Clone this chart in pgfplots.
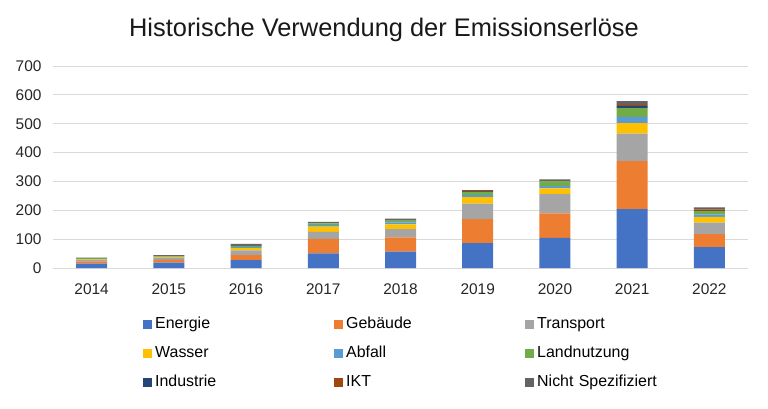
\documentclass[border=0pt]{standalone}
\usepackage{pgfplots}
\usepackage{pgfplotstable}
\pgfplotsset{compat=1.18}
\usepackage{fontspec}
\setmainfont{Liberation Sans}
\definecolor{cE}{HTML}{4472C4}
\definecolor{cG}{HTML}{ED7D31}
\definecolor{cT}{HTML}{A5A5A5}
\definecolor{cW}{HTML}{FFC000}
\definecolor{cA}{HTML}{5B9BD5}
\definecolor{cL}{HTML}{70AD47}
\definecolor{cI}{HTML}{264478}
\definecolor{cK}{HTML}{9E480E}
\definecolor{cN}{HTML}{636363}
\definecolor{gridc}{HTML}{D9D9D9}
\pgfplotstableread{
x E G T W A L I K N
0 15 8 6 2 1 2 0 0 2
1 19 9 6 4 2 2 0 0 3
2 27 18 16 8 4 4 0 0 7
3 51 50 24 18 6 6 0 0 5
4 57 49 29 16 7 6 0 0 7
5 86 83 54 23 7 10 1 3 3
6 104 85 67 20 8 16 0 1 6
7 204 166 96 36 22 30 7 4 13
8 72 45 40 20 9 11 1 5 7
}\data
\begin{document}
\begin{tikzpicture}
\path[use as bounding box] (-53bp,-141bp) rectangle (715bp,268bp);
\begin{axis}[
  at={(0,0)}, anchor=south west,
  scale only axis, width=695bp, height=202bp,
  ymin=0, ymax=700, ytick={0,100,...,700},
  xmin=-0.5, xmax=8.5, xtick={0,...,8},
  xticklabels={2014,2015,2016,2017,2018,2019,2020,2021,2022},
  ymajorgrids, grid style={gridc, line width=0.9pt},
  axis line style={draw=none},
  major tick length=0pt,
  /pgf/number format/assume math mode=true,
  /pgf/number format/set thousands separator={},
  ticklabel style={font=\fontsize{15.5}{17}\selectfont, text=black!85},
  yticklabel style={xshift=-8bp},
  xticklabel style={yshift=-12bp},
  ybar stacked, bar width=31bp,
  legend columns=3,
  legend cell align=left,
  legend image code/.code={\fill[#1] (0bp,-4.5bp) rectangle (9bp,4.5bp);},
  legend style={draw=none, fill=none, at={(0.1295,-0.2426)}, anchor=north west,
    inner sep=0pt, row sep=14bp,
    font=\fontsize{16}{18}\selectfont,
    nodes={text width=176bp, text height=11bp, text depth=4bp, inner xsep=3bp, inner ysep=0pt},
    /tikz/every odd column/.append style={column sep=0bp}},
]
\addplot[fill=cE, draw=none] table[x=x,y=E]{\data};
\addlegendentry{Energie}
\addplot[fill=cG, draw=none] table[x=x,y=G]{\data};
\addlegendentry{Gebäude}
\addplot[fill=cT, draw=none] table[x=x,y=T]{\data};
\addlegendentry{Transport}
\addplot[fill=cW, draw=none] table[x=x,y=W]{\data};
\addlegendentry{Wasser}
\addplot[fill=cA, draw=none] table[x=x,y=A]{\data};
\addlegendentry{Abfall}
\addplot[fill=cL, draw=none] table[x=x,y=L]{\data};
\addlegendentry{Landnutzung}
\addplot[fill=cI, draw=none] table[x=x,y=I]{\data};
\addlegendentry{Industrie}
\addplot[fill=cK, draw=none] table[x=x,y=K]{\data};
\addlegendentry{IKT}
\addplot[fill=cN, draw=none] table[x=x,y=N]{\data};
\addlegendentry{Nicht Spezifiziert}
\end{axis}
\node[font=\fontsize{25.5}{30}\selectfont, text=black!90] at (331bp,238bp) {Historische Verwendung der Emissionserlöse};
\end{tikzpicture}
\end{document}
